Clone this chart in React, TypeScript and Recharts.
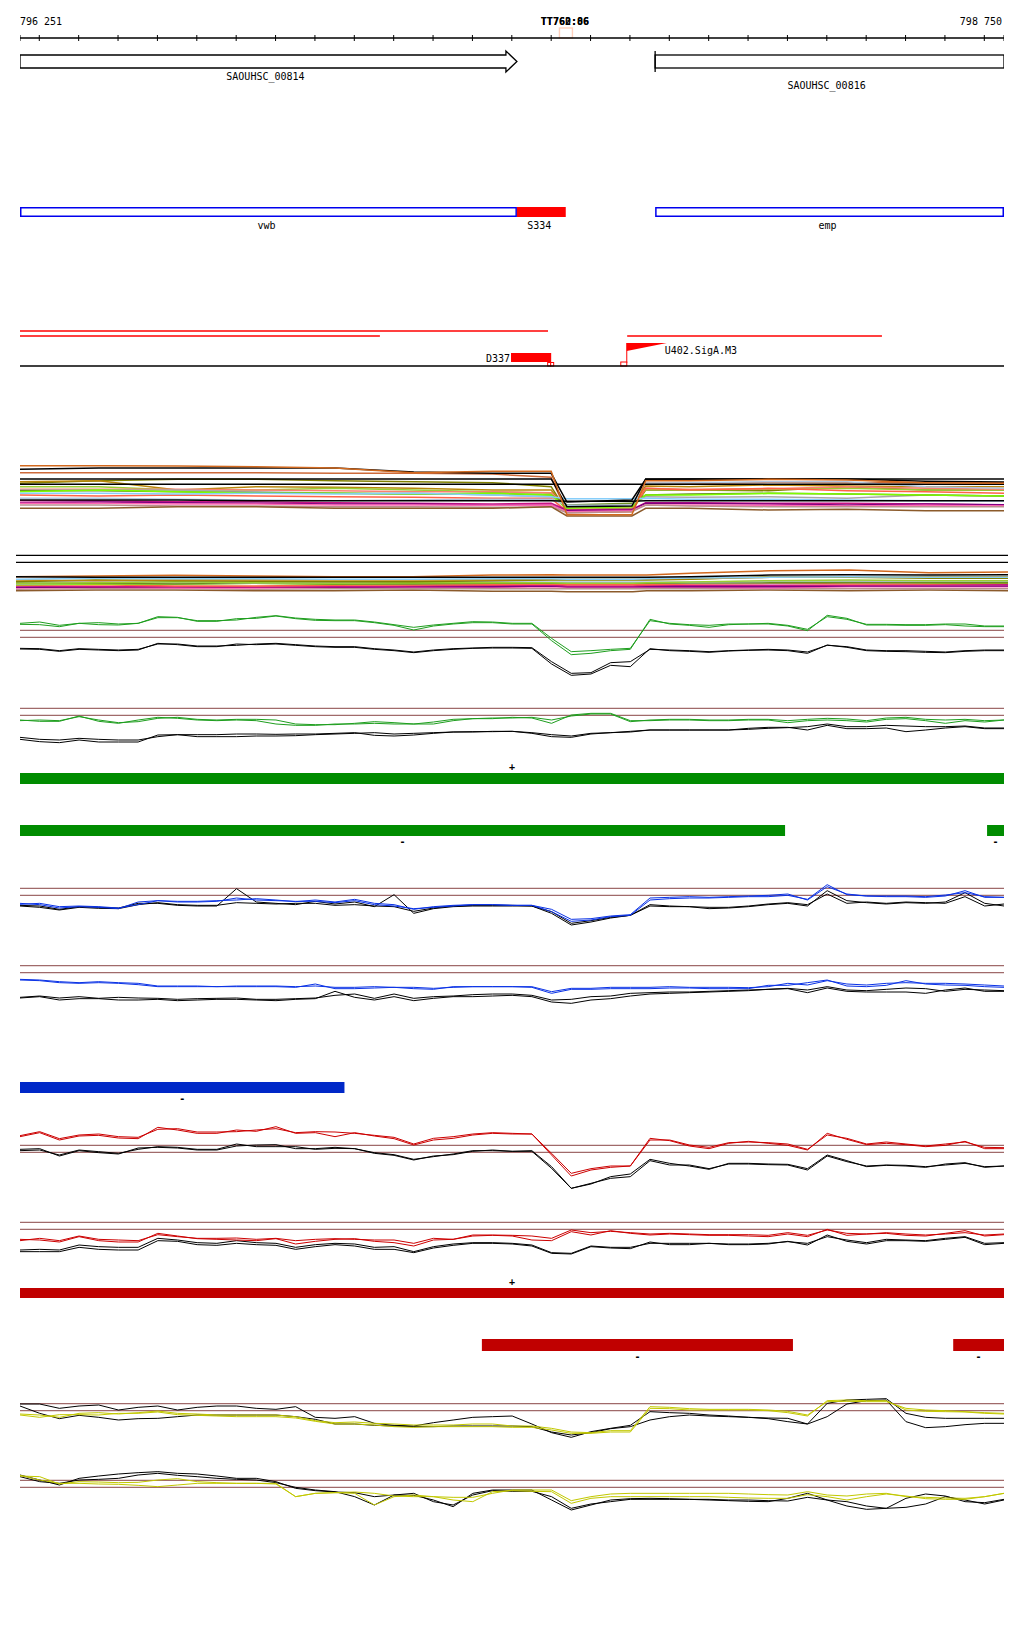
import React from 'react'
import { ComposedChart, Line, XAxis, YAxis, ReferenceLine, ReferenceArea } from 'recharts'

const X_START = 796251
const X_END = 798750
const FONT = '"DejaVu Sans Mono", "Liberation Mono", monospace'

// ---- annotation data ----
const AXIS_TICKS = [
  796251, 796300, 796400, 796500, 796600, 796700, 796800, 796900, 797000, 797100, 797200, 797300, 797400,
  797500, 797600, 797700, 797800, 797900, 798000, 798100, 798200, 798300, 798400, 798500, 798600, 798700, 798750,
]
const POSITION_LABELS = ['TT760:86', 'TT762:06']
const TSS_WINDOW = [797621, 797654]

const GENES = [
  { name: 'SAOUHSC_00814', start: 796251, end: 797513 },
  { name: 'SAOUHSC_00816', start: 797864, end: 798750 },
]
const FEATURES = [
  { name: 'vwb', start: 796251, end: 797513, kind: 'cds' },
  { name: 'S334', start: 797513, end: 797637, kind: 'srna' },
  { name: 'emp', start: 797864, end: 798750, kind: 'cds' },
]
const TRANSCRIPTS = [
  { start: 796251, end: 797592 },
  { start: 796251, end: 797165 },
  { start: 797793, end: 798440 },
]
const UTR = { name: 'D337', start: 797498, end: 797600 }
const PROMOTER = { name: 'U402.SigA.M3', pos: 797792 }

// strand-specific expressed segments
const GREEN_PLUS = [[796251, 798750]]
const GREEN_MINUS = [[796251, 798194], [798707, 798750]]
const BLUE_MINUS = [[796251, 797075]]
const RED_PLUS = [[796251, 798750]]
const RED_MINUS = [[797424, 798214], [798621, 798750]]

// ---- signal data (bp positions, 50 bp bins) ----
const POS = [
  796251, 796301, 796351, 796401, 796451, 796501, 796551, 796601, 796651, 796701,
  796751, 796801, 796851, 796901, 796951, 797001, 797051, 797101, 797151, 797201,
  797251, 797301, 797351, 797401, 797451, 797501, 797551, 797601, 797651, 797701,
  797751, 797801, 797851, 797901, 797951, 798001, 798051, 798101, 798151, 798201,
  798251, 798301, 798351, 798401, 798451, 798501, 798551, 798601, 798651, 798701,
  798750,
]

// values are signal depth (larger = lower on track)
const G1_GREEN_A = [
  70, 66, 76, 70, 68, 72, 70, 53, 53, 62,
  62, 60, 52, 47, 54, 58, 60, 60, 66, 74,
  82, 75, 70, 65, 66, 70, 70, 115, 155, 152,
  148, 145, 62, 70, 74, 76, 72, 72, 70, 76,
  88, 50, 58, 73, 73, 74, 74, 72, 72, 78,
  78,
]
const G1_GREEN_B = [
  73, 74, 80, 70, 74, 75, 70, 50, 52, 64,
  64, 56, 55, 48, 56, 61, 62, 62, 68, 76,
  90, 78, 72, 68, 68, 72, 72, 122, 164, 160,
  152, 148, 58, 72, 76, 82, 74, 72, 72, 78,
  92, 46, 55, 75, 75, 76, 76, 74, 78, 80,
  80,
]
const G1_BLACK_A = [
  145, 146, 152, 146, 148, 150, 148, 132, 132, 138,
  138, 136, 132, 130, 134, 138, 140, 140, 146, 150,
  156, 150, 146, 144, 142, 142, 143, 185, 220, 218,
  188, 185, 148, 150, 152, 155, 152, 150, 148, 150,
  156, 136, 140, 150, 152, 152, 154, 156, 152, 150,
  150,
]
const G1_BLACK_B = [
  147, 148, 154, 148, 150, 152, 150, 130, 134, 140,
  140, 132, 134, 132, 136, 140, 142, 142, 148, 152,
  158, 152, 148, 145, 144, 144, 145, 192, 226, 222,
  196, 200, 146, 152, 154, 157, 153, 151, 150, 152,
  160, 135, 142, 152, 154, 155, 157, 158, 154, 152,
  152,
]
const G2_GREEN_A = [
  362, 360, 362, 350, 360, 368, 365, 355, 352, 358,
  360, 358, 358, 360, 372, 374, 374, 370, 365, 368,
  372, 372, 362, 356, 354, 354, 352, 360, 348, 342,
  342, 365, 360, 358, 358, 360, 360, 358, 358, 362,
  358, 355, 357, 362, 354, 352, 358, 360, 358, 362,
  360,
]
const G2_GREEN_B = [
  360, 364, 364, 348, 364, 370, 360, 352, 355, 360,
  362, 360, 362, 372, 376, 376, 372, 372, 370, 372,
  372, 366, 358, 356, 356, 352, 354, 370, 345, 340,
  340, 362, 362, 360, 360, 362, 362, 360, 360, 368,
  362, 360, 362, 366, 358, 356, 362, 370, 362, 366,
  360,
]
const G2_BLACK_A = [
  412, 418, 420, 415, 418, 420, 420, 410, 404, 410,
  410, 410, 408, 408, 407, 404, 402, 400, 398, 402,
  400, 398, 396, 395, 395, 394, 398, 404, 408, 400,
  398, 396, 390, 390, 390, 390, 390, 388, 385, 383,
  380, 372, 380, 380, 376, 378, 380, 380, 378, 384,
  384,
]
const G2_BLACK_B = [
  418, 425, 428, 420, 426, 426, 426, 405, 404, 404,
  404, 402, 402, 403, 402, 402, 400, 398, 406, 408,
  405, 400, 396, 396, 394, 394, 400, 410, 412, 402,
  398, 394, 390, 390, 390, 390, 390, 385, 382, 382,
  390, 376, 386, 386, 384, 395, 390, 384, 380, 386,
  386,
]

const B1_BLUE_A = [
  103, 100, 110, 108, 110, 114, 104, 92, 94, 94,
  92, 90, 86, 90, 95, 90, 96, 88, 100, 104,
  118, 110, 106, 104, 104, 106, 106, 118, 148, 146,
  138, 134, 84, 82, 80, 82, 80, 78, 76, 72,
  90, 50, 72, 78, 78, 78, 80, 75, 68, 80,
  82,
]
const B1_BLUE_B = [
  100, 104, 114, 110, 112, 116, 96, 92, 96, 96,
  94, 84, 90, 92, 94, 94, 98, 92, 104, 108,
  116, 112, 108, 104, 104, 106, 106, 125, 154, 150,
  140, 136, 90, 86, 84, 84, 82, 80, 80, 76,
  88, 44, 74, 78, 80, 80, 82, 78, 62, 82,
  82,
]
const B1_BLACK_A = [
  108, 112, 120, 112, 115, 116, 104, 98, 104, 106,
  106, 98, 100, 102, 100, 100, 106, 104, 108, 110,
  124, 114, 108, 106, 106, 106, 108, 125, 160, 152,
  142, 136, 104, 108, 110, 112, 112, 108, 102, 98,
  104, 72, 100, 96, 100, 96, 98, 100, 80, 108,
  102,
]
const B1_BLACK_B = [
  106, 108, 118, 110, 112, 114, 100, 100, 106, 108,
  108, 56, 96, 100, 104, 94, 102, 96, 110, 74,
  130, 116, 110, 108, 108, 108, 108, 130, 165, 156,
  144, 136, 108, 110, 110, 116, 114, 110, 104, 100,
  108, 62, 92, 98, 102, 98, 100, 96, 68, 100,
  108,
]
const B2_BLUE_A = [
  328, 330, 335, 338, 335, 338, 340, 348, 348, 348,
  350, 348, 348, 348, 350, 348, 352, 352, 350, 352,
  352, 355, 352, 350, 350, 350, 350, 365, 355, 355,
  352, 352, 352, 350, 352, 352, 352, 353, 350, 340,
  345, 332, 342, 345, 340, 338, 340, 340, 342, 345,
  348,
]
const B2_BLUE_B = [
  330, 332, 338, 340, 338, 340, 344, 350, 350, 350,
  350, 350, 350, 350, 352, 342, 356, 356, 354, 352,
  356, 358, 350, 350, 350, 350, 352, 370, 358, 358,
  356, 356, 356, 354, 354, 356, 356, 356, 346, 346,
  338, 330, 348, 350, 346, 332, 342, 345, 346, 350,
  352,
]
const B2_BLACK_A = [
  382, 378, 384, 380, 385, 382, 384, 385, 388, 386,
  385, 384, 388, 388, 386, 384, 376, 372, 385, 372,
  385, 380, 378, 374, 372, 372, 376, 390, 388, 380,
  378, 370, 368, 366, 366, 364, 362, 360, 358, 355,
  360, 350, 360, 362, 358, 354, 356, 364, 358, 360,
  362,
]
const B2_BLACK_B = [
  384, 380, 390, 386, 386, 390, 390, 388, 392, 390,
  388, 388, 390, 392, 388, 386, 364, 382, 390, 380,
  392, 385, 380, 380, 378, 376, 380, 396, 400, 390,
  386, 378, 372, 370, 368, 366, 364, 362, 358, 356,
  368, 354, 364, 366, 366, 366, 370, 360, 354, 364,
  364,
]

const R1_RED_A = [
  197, 185, 206, 195, 192, 200, 202, 178, 176, 186,
  186, 185, 180, 176, 188, 185, 186, 190, 196, 202,
  222, 205, 200, 192, 188, 190, 192, 250, 310, 296,
  288, 288, 210, 210, 225, 232, 218, 216, 218, 222,
  238, 195, 205, 222, 216, 222, 228, 222, 216, 232,
  233,
]
const R1_RED_B = [
  200, 188, 210, 198, 196, 204, 206, 172, 180, 190,
  190, 180, 184, 170, 190, 188, 200, 188, 198, 206,
  225, 210, 205, 195, 190, 192, 192, 255, 318, 300,
  292, 288, 205, 212, 228, 236, 220, 214, 220, 226,
  240, 190, 208, 224, 220, 224, 230, 226, 214, 236,
  236,
]
const R1_BLACK_A = [
  242, 240, 255, 240, 245, 250, 238, 230, 232, 238,
  238, 222, 230, 230, 230, 238, 235, 236, 248, 254,
  268, 260, 252, 242, 242, 244, 242, 290, 355, 340,
  325, 320, 272, 285, 285, 296, 282, 282, 284, 285,
  300, 258, 275, 288, 285, 286, 290, 285, 280, 290,
  288,
]
const R1_BLACK_B = [
  238, 236, 258, 242, 248, 252, 234, 232, 234, 240,
  240, 228, 225, 224, 236, 236, 232, 236, 250, 256,
  270, 258, 254, 244, 240, 244, 244, 295, 355, 342,
  320, 312, 268, 280, 288, 298, 280, 280, 282, 283,
  296, 255, 272, 290, 286, 288, 292, 282, 278, 292,
  288,
]
const R2_RED_A = [
  512, 505, 512, 498, 508, 510, 512, 494, 500, 505,
  505, 504, 508, 505, 512, 508, 506, 508, 510, 510,
  520, 505, 508, 495, 495, 496, 498, 505, 480, 488,
  484, 488, 492, 490, 492, 494, 494, 494, 496, 488,
  496, 480, 490, 492, 488, 492, 495, 492, 488, 495,
  492,
]
const R2_RED_B = [
  508, 510, 516, 500, 512, 516, 516, 490, 498, 506,
  508, 510, 512, 506, 522, 514, 508, 506, 514, 518,
  528, 510, 508, 498, 496, 498, 510, 512, 485, 495,
  482, 490, 495, 492, 494, 496, 496, 498, 500, 492,
  500, 478, 496, 492, 490, 496, 498, 490, 482, 498,
  494,
]
const R2_BLACK_A = [
  540, 538, 540, 525, 530, 532, 532, 505, 510, 518,
  520, 512, 518, 520, 532, 524, 520, 522, 532, 530,
  545, 530, 522, 518, 518, 520, 525, 548, 550, 528,
  532, 532, 520, 520, 520, 520, 522, 522, 520, 515,
  520, 500, 510, 518, 508, 510, 512, 505, 500, 520,
  518,
]
const R2_BLACK_B = [
  545, 545, 545, 532, 538, 540, 540, 512, 514, 524,
  526, 520, 524, 526, 538, 530, 524, 528, 538, 538,
  548, 534, 526, 520, 520, 522, 528, 550, 552, 530,
  534, 536, 516, 524, 524, 520, 524, 524, 522, 514,
  525, 495, 514, 522, 512, 512, 514, 508, 502, 524,
  520,
]

const Y1_YEL_A = [
  342, 345, 352, 340, 338, 342, 338, 333, 340, 342,
  345, 345, 345, 345, 350, 362, 368, 366, 370, 372,
  375, 375, 375, 372, 372, 378, 378, 385, 396, 398,
  392, 392, 320, 322, 326, 328, 328, 328, 330, 334,
  345, 305, 304, 305, 305, 325, 330, 332, 335, 338,
  340,
]
const Y1_YEL_B = [
  345, 352, 344, 344, 345, 340, 340, 336, 344, 346,
  348, 350, 350, 350, 354, 364, 372, 372, 375, 380,
  382, 380, 380, 380, 380, 382, 382, 390, 400, 400,
  396, 396, 325, 326, 330, 330, 330, 330, 332, 338,
  348, 302, 300, 302, 302, 330, 334, 335, 336, 340,
  342,
]
const Y1_BLACK_A = [
  312, 312, 325, 318, 315, 330, 322, 318, 330, 322,
  318, 318, 325, 328, 320, 352, 355, 350, 370, 376,
  378, 368, 360, 352, 350, 348, 372, 398, 412, 395,
  385, 376, 335, 338, 340, 345, 348, 352, 356, 365,
  372, 310, 300, 298, 296, 340, 352, 355, 355, 355,
  355,
]
const Y1_BLACK_B = [
  318, 340, 356, 346, 352, 360, 356, 355, 350, 345,
  345, 345, 345, 345, 350, 358, 372, 372, 376, 378,
  380, 380, 378, 378, 378, 378, 380, 396, 405, 398,
  386, 380, 360, 350, 345, 348, 350, 352, 354, 355,
  372, 350, 312, 302, 300, 365, 383, 380, 374, 370,
  370,
]
const Y2_YEL_A = [
  528, 530, 552, 545, 546, 548, 547, 540, 536, 545,
  548, 550, 550, 552, 590, 580, 578, 576, 580, 588,
  590, 590, 592, 592, 580, 570, 570, 570, 602, 590,
  582, 580, 580, 580, 580, 580, 580, 582, 584, 585,
  575, 585, 588, 582, 580, 590, 592, 594, 595, 590,
  580,
]
const Y2_YEL_B = [
  526, 540, 550, 550, 552, 553, 556, 560, 555, 550,
  550, 550, 550, 550, 590, 580, 578, 580, 615, 590,
  585, 590, 600, 605, 575, 572, 574, 575, 610, 595,
  590, 590, 590, 590, 590, 590, 592, 594, 595, 595,
  584, 590, 600, 590, 582, 588, 596, 598, 598, 590,
  580,
]
const Y2_BLACK_A = [
  525, 540, 555, 535, 528, 522, 518, 515, 520, 522,
  528, 535, 535, 545, 565, 572, 576, 578, 590, 585,
  586, 600, 620, 580, 570, 570, 570, 600, 630, 615,
  600, 596, 595, 596, 598, 600, 602, 604, 605, 595,
  580, 600, 618, 628, 625, 622, 612, 590, 600, 612,
  600,
]
const Y2_BLACK_B = [
  530, 545, 550, 540, 538, 535, 525, 520, 526, 530,
  535, 538, 540, 548, 562, 570, 575, 590, 615, 585,
  580, 605, 615, 585, 572, 574, 574, 590, 625, 612,
  605, 598, 598, 598, 598, 598, 600, 600, 602, 603,
  592, 600, 605, 618, 625, 595, 582, 588, 605, 608,
  598,
]

const G_THRESHOLDS = [91, 112, 325, 346]
const B_THRESHOLDS = [55, 76, 287, 308]
const R_THRESHOLDS = [226, 247, 457, 478]
const Y_THRESHOLDS = [311, 332, 541, 562]

// ---- per-sample profiles (coarser bins) ----
const BPOS = [
  796251, 796451, 796651, 796851, 797051, 797251, 797451, 797600,
  797640, 797805, 797840, 797951, 798151, 798351, 798551, 798750,
]
const PROFILES_TOP = [
  [98, 98, 98, 98, 100, 100, 102, 112, 218, 215, 130, 130, 127, 128, 128, 128],
  [130, 122, 118, 118, 122, 125, 128, 140, 215, 210, 150, 150, 152, 140, 150, 150],
  [125, 122, 150, 140, 142, 145, 150, 150, 210, 205, 138, 140, 135, 138, 140, 140],
  [140, 140, 150, 150, 145, 150, 155, 160, 210, 205, 148, 150, 148, 145, 150, 150],
  [148, 148, 148, 150, 152, 155, 155, 158, 205, 200, 145, 148, 146, 140, 145, 148],
  [150, 150, 150, 155, 160, 160, 165, 170, 200, 195, 170, 172, 170, 175, 165, 168],
  [152, 152, 155, 158, 160, 163, 160, 165, 195, 190, 165, 162, 160, 162, 165, 168],
  [155, 150, 155, 160, 160, 162, 160, 165, 205, 200, 165, 165, 160, 162, 165, 168],
  [165, 168, 165, 168, 170, 172, 175, 175, 215, 212, 145, 150, 145, 152, 155, 160],
  [175, 175, 178, 180, 182, 180, 178, 178, 196, 195, 130, 128, 125, 125, 140, 145],
  [160, 160, 162, 160, 162, 160, 165, 170, 176, 176, 175, 178, 178, 180, 182, 182],
  [182, 182, 185, 185, 188, 190, 192, 190, 210, 208, 188, 188, 190, 190, 192, 195],
  [188, 186, 188, 190, 192, 192, 195, 195, 212, 210, 190, 190, 192, 195, 192, 194],
  [190, 190, 192, 192, 195, 195, 196, 195, 215, 212, 195, 195, 196, 198, 196, 198],
  [195, 195, 198, 198, 200, 200, 202, 200, 218, 215, 195, 198, 200, 200, 200, 200],
  [205, 205, 200, 200, 205, 205, 205, 200, 228, 228, 205, 205, 210, 208, 212, 212],
  [180, 180, 180, 182, 182, 182, 182, 182, 184, 184, 182, 182, 182, 182, 182, 182],
  [117, 117, 117, 117, 117, 117, 117, 117, 200, 198, 117, 117, 117, 117, 117, 117],
  [133, 133, 133, 133, 133, 133, 133, 133, 133, 133, 133, 133, 133, 133, 133, 133],
  [88, 84, 84, 84, 84, 96, 100, 100, 186, 180, 118, 117, 117, 117, 124, 126],
  [77, 77, 78, 80, 84, 98, 94, 94, 224, 224, 122, 122, 118, 120, 128, 130],
]
const PROFILES_BOTTOM = [
  [452, 450, 450, 452, 452, 450, 454, 454, 455, 455, 452, 452, 450, 452, 450, 452],
  [448, 446, 446, 448, 446, 446, 446, 446, 446, 446, 446, 446, 446, 446, 446, 446],
  [444, 442, 444, 444, 442, 442, 442, 440, 442, 442, 442, 442, 444, 440, 440, 440],
  [442, 442, 440, 442, 442, 440, 440, 438, 440, 440, 440, 440, 440, 438, 438, 438],
  [438, 440, 440, 442, 440, 438, 436, 436, 438, 438, 436, 436, 436, 436, 434, 434],
  [436, 434, 438, 438, 436, 435, 434, 432, 434, 434, 434, 432, 430, 432, 432, 430],
  [434, 432, 432, 430, 432, 430, 430, 430, 430, 430, 428, 428, 426, 424, 428, 428],
  [432, 430, 430, 430, 428, 426, 426, 428, 428, 428, 430, 430, 428, 426, 424, 426],
  [428, 430, 432, 430, 432, 432, 430, 430, 430, 430, 430, 428, 428, 428, 428, 428],
  [426, 426, 426, 428, 428, 426, 426, 426, 426, 426, 426, 426, 424, 422, 424, 424],
  [430, 428, 425, 428, 430, 428, 428, 428, 430, 430, 428, 426, 422, 420, 422, 422],
  [425, 420, 422, 424, 425, 425, 422, 420, 420, 420, 420, 418, 410, 412, 415, 415],
  [420, 422, 420, 420, 420, 420, 420, 418, 418, 418, 418, 416, 412, 410, 410, 410],
  [418, 415, 416, 416, 418, 418, 416, 416, 418, 418, 416, 414, 412, 410, 412, 412],
  [410, 408, 406, 408, 410, 410, 405, 404, 405, 405, 405, 400, 392, 390, 398, 396],
  [410, 412, 412, 412, 412, 412, 412, 412, 412, 412, 412, 410, 405, 404, 405, 404],
]
const SEPARATORS = [346, 367]

// ---- styles ----
const TOP_COLORS = [
  '#cd6a3a', '#808000', '#b8860b', '#9acd32', '#fa8072', '#a9a9a9', '#6b8e23', '#7cfc00', '#ff6347',
  '#b0c4de', '#87cefa', '#c71585', '#800080', '#ff69b4', '#bc8f8f', '#8b5a2b', '#000000', '#000000',
  '#000000', '#000000', '#d2691e',
]
const BOTTOM_COLORS = [
  '#8b5a2b', '#bc8f8f', '#ff69b4', '#800080', '#c71585', '#ff6347', '#7cfc00', '#a9a9a9', '#6b8e23',
  '#b0c4de', '#9acd32', '#808000', '#b8860b', '#87cefa', '#d2691e', '#000000',
]
const BROWN = '#a06a6a'
const NO_MARGIN = { top: 0, right: 0, bottom: 0, left: 0 }

function buildRows(pos: number[], series: Record<string, number[]>) {
  return pos.map((p, i) => {
    const row: Record<string, number> = { pos: p }
    Object.keys(series).forEach((k) => {
      row[k] = series[k][i]
    })
    return row
  })
}

const GREEN_ROWS = buildRows(POS, {
  k1: G1_BLACK_A, k2: G1_BLACK_B, c1: G1_GREEN_A, c2: G1_GREEN_B,
  k3: G2_BLACK_A, k4: G2_BLACK_B, c3: G2_GREEN_A, c4: G2_GREEN_B,
})
const BLUE_ROWS = buildRows(POS, {
  k1: B1_BLACK_A, k2: B1_BLACK_B, c1: B1_BLUE_A, c2: B1_BLUE_B,
  k3: B2_BLACK_A, k4: B2_BLACK_B, c3: B2_BLUE_A, c4: B2_BLUE_B,
})
const RED_ROWS = buildRows(POS, {
  k1: R1_BLACK_A, k2: R1_BLACK_B, c1: R1_RED_A, c2: R1_RED_B,
  k3: R2_BLACK_A, k4: R2_BLACK_B, c3: R2_RED_A, c4: R2_RED_B,
})
const YELLOW_ROWS = buildRows(POS, {
  k1: Y1_BLACK_A, k2: Y1_BLACK_B, c1: Y1_YEL_A, c2: Y1_YEL_B,
  k3: Y2_BLACK_A, k4: Y2_BLACK_B, c3: Y2_YEL_A, c4: Y2_YEL_B,
})
const TOP_ROWS = buildRows(BPOS, Object.fromEntries(PROFILES_TOP.map((s, i) => ['p' + i, s])))
const BOTTOM_ROWS = buildRows(BPOS, Object.fromEntries(PROFILES_BOTTOM.map((s, i) => ['p' + i, s])))
const EDGE_ROWS = [{ pos: X_START }, { pos: X_END }]

const fmtPos = (n: number) => `${Math.floor(n / 1000)} ${String(n % 1000).padStart(3, '0')}`

function Track({ left = 20, width = 984, top, height, yMax, data, children }: any) {
  return (
    <div style={{ position: 'absolute', left, top, width, height }}>
      <ComposedChart width={width} height={height} data={data} margin={NO_MARGIN}>
        <XAxis dataKey="pos" type="number" domain={[X_START, X_END]} hide allowDataOverflow />
        <YAxis type="number" domain={[0, yMax]} reversed hide allowDataOverflow />
        {children}
      </ComposedChart>
    </div>
  )
}

const trace = (key: string, color: string, width = 1) => (
  <Line
    key={key}
    dataKey={key}
    type="linear"
    stroke={color}
    strokeWidth={width}
    dot={false}
    activeDot={false}
    isAnimationActive={false}
  />
)

const threshold = (v: number, i: number) => (
  <ReferenceLine key={'t' + i} y={v} stroke={BROWN} strokeWidth={1.4} ifOverflow="visible" />
)

const txt = (x: number, y: number, s: string, anchor: 'start' | 'middle' | 'end' = 'middle', bold = false) => (
  <text x={x} y={y} textAnchor={anchor} dominantBaseline="central" fontSize={10} fontFamily={FONT} fontWeight={bold ? 'bold' : 'normal'} fill="#000">
    {s}
  </text>
)

function SignalPanel({ top, height, yMax, rows, thresholds, color }: any) {
  return (
    <Track top={top} height={height} yMax={yMax} data={rows}>
      {thresholds.map(threshold)}
      {['k1', 'k2', 'k3', 'k4'].map((k) => trace(k, '#000'))}
      {['c1', 'c2', 'c3', 'c4'].map((k) => trace(k, color))}
    </Track>
  )
}

function strandBars(segments: number[][], color: string, y1: number, y2: number, sign: string, above: boolean, tag: string) {
  return segments.map(([s, e], i) => (
    <ReferenceArea
      key={tag + i}
      x1={s}
      x2={e}
      y1={y1}
      y2={y2}
      ifOverflow="visible"
      shape={(p: any) => (
        <g>
          <rect x={p.x} y={p.y} width={p.width} height={p.height} fill={color} />
          {txt(p.x + p.width / 2, above ? p.y - 7 : p.y + p.height + 5, sign, 'middle', true)}
        </g>
      )}
    />
  ))
}

function Overlay() {
  const rows = [331, 336, 336]
  return (
    <div style={{ position: 'absolute', left: 20, top: 0 }}>
      <ComposedChart width={984} height={1640} data={EDGE_ROWS} margin={NO_MARGIN}>
        <XAxis dataKey="pos" type="number" domain={[X_START, X_END]} hide allowDataOverflow />
        <YAxis type="number" domain={[0, 1640]} reversed hide allowDataOverflow />

        {/* coordinate ruler */}
        <ReferenceArea
          x1={X_START}
          x2={X_END}
          y1={16}
          y2={26}
          ifOverflow="visible"
          shape={(p: any) => (
            <g>
              {txt(p.x, 21, fmtPos(X_START), 'start')}
              {txt(p.x + p.width - 2, 21, fmtPos(X_END), 'end')}
            </g>
          )}
        />
        <ReferenceLine y={38} stroke="#000" strokeWidth={1.4} ifOverflow="visible" />
        {AXIS_TICKS.map((t) => (
          <ReferenceLine key={'tick' + t} segment={[{ x: t, y: 35 }, { x: t, y: 41 }]} stroke="#000" strokeWidth={1} ifOverflow="visible" />
        ))}
        <ReferenceArea
          x1={TSS_WINDOW[0]}
          x2={TSS_WINDOW[1]}
          y1={28}
          y2={38}
          ifOverflow="visible"
          shape={(p: any) => (
            <g>
              <rect x={p.x} y={p.y} width={p.width} height={p.height} fill="none" stroke="#ffd0bc" strokeWidth={1.4} />
              {POSITION_LABELS.map((l) => (
                <g key={l}>{txt(p.x + p.width / 2 - 1, 21, l, 'middle', true)}</g>
              ))}
            </g>
          )}
        />

        {/* gene models */}
        <ReferenceArea
          x1={GENES[0].start}
          x2={GENES[0].end}
          y1={55}
          y2={68}
          ifOverflow="visible"
          shape={(p: any) => {
            const b = p.x + p.width - 11
            const pts = `${p.x},${p.y} ${b},${p.y} ${b},${p.y - 4} ${p.x + p.width},${p.y + p.height / 2} ${b},${p.y + p.height + 4} ${b},${p.y + p.height} ${p.x},${p.y + p.height}`
            return (
              <g>
                <polygon points={pts} fill="#fff" stroke="#000" strokeWidth={1.3} />
                {txt(p.x + p.width / 2 - 3, 76, GENES[0].name)}
              </g>
            )
          }}
        />
        <ReferenceArea
          x1={GENES[1].start}
          x2={GENES[1].end}
          y1={55}
          y2={68}
          ifOverflow="visible"
          shape={(p: any) => (
            <g>
              <rect x={p.x} y={p.y} width={p.width} height={p.height} fill="#fff" stroke="#000" strokeWidth={1.3} />
              <line x1={p.x} x2={p.x} y1={p.y - 4} y2={p.y + p.height + 4} stroke="#000" strokeWidth={1.3} />
              {txt(p.x + p.width / 2 - 3, 85, GENES[1].name)}
            </g>
          )}
        />

        {/* annotated features */}
        {FEATURES.map((f) => (
          <ReferenceArea
            key={f.name}
            x1={f.start}
            x2={f.end}
            y1={207}
            y2={217}
            ifOverflow="visible"
            shape={(p: any) => (
              <g>
                {f.kind === 'cds' ? (
                  <rect x={p.x + 0.75} y={p.y + 0.75} width={p.width - 1.5} height={p.height - 1.5} fill="#fff" stroke="#0000ee" strokeWidth={1.5} />
                ) : (
                  <rect x={p.x} y={p.y} width={p.width} height={p.height} fill="#ff0000" />
                )}
                {txt(p.x + p.width / 2 - 2, 225, f.name)}
              </g>
            )}
          />
        ))}

        {/* transcripts */}
        {TRANSCRIPTS.map((t, i) => (
          <ReferenceLine key={'tr' + i} segment={[{ x: t.start, y: rows[i] }, { x: t.end, y: rows[i] }]} stroke="#ff0000" strokeWidth={1.5} ifOverflow="visible" />
        ))}
        <ReferenceArea
          x1={UTR.start}
          x2={UTR.end}
          y1={353}
          y2={362}
          ifOverflow="visible"
          shape={(p: any) => (
            <g>
              <rect x={p.x} y={p.y} width={p.width} height={p.height} fill="#ff0000" />
              <rect x={p.x + p.width - 3.5} y={362.5} width={3} height={3.5} fill="#fff" stroke="#ff0000" strokeWidth={1} />
              <rect x={p.x + p.width - 0.5} y={362.5} width={3} height={3.5} fill="#fff" stroke="#ff0000" strokeWidth={1} />
              {txt(p.x - 1, 358, UTR.name, 'end')}
            </g>
          )}
        />
        <ReferenceLine
          segment={[{ x: PROMOTER.pos, y: 343 }, { x: PROMOTER.pos, y: 363 }]}
          ifOverflow="visible"
          shape={(p: any) => (
            <g>
              <line x1={p.x1} x2={p.x1} y1={343} y2={363} stroke="#ff0000" strokeWidth={1} />
              <polygon points={`${p.x1},343 ${p.x1 + 40},343 ${p.x1},351`} fill="#ff0000" />
              <rect x={p.x1 - 6} y={362} width={6} height={4} fill="#fff" stroke="#ff0000" strokeWidth={1} />
              {txt(p.x1 + 38, 350, PROMOTER.name, 'start')}
            </g>
          )}
        />
        <ReferenceLine y={366} stroke="#000" strokeWidth={1.4} ifOverflow="visible" />

        {/* strand coverage bars */}
        {strandBars(GREEN_PLUS, '#008c00', 773, 784, '+', true, 'gp')}
        {strandBars(GREEN_MINUS, '#008c00', 825, 836, '-', false, 'gm')}
        {strandBars(BLUE_MINUS, '#0028c8', 1082, 1093, '-', false, 'bm')}
        {strandBars(RED_PLUS, '#c00000', 1288, 1298, '+', true, 'rp')}
        {strandBars(RED_MINUS, '#c00000', 1339, 1351, '-', false, 'rm')}
      </ComposedChart>
    </div>
  )
}

export default function App() {
  return (
    <div style={{ position: 'absolute', left: 0, top: 0, width: 1024, height: 1640, background: '#fff', overflow: 'hidden' }}>
      <Overlay />
      <Track top={440} height={160} yMax={480} data={TOP_ROWS}>
        {PROFILES_TOP.map((_, i) => trace('p' + i, TOP_COLORS[i], 1.5))}
      </Track>
      <Track left={16} width={992} top={440} height={160} yMax={480} data={BOTTOM_ROWS}>
        {SEPARATORS.map((v, i) => (
          <ReferenceLine key={'s' + i} y={v} stroke="#000" strokeWidth={1.4} ifOverflow="visible" />
        ))}
        {PROFILES_BOTTOM.map((_, i) => trace('p' + i, BOTTOM_COLORS[i], 1.5))}
      </Track>
      <SignalPanel top={600} height={160} yMax={480} rows={GREEN_ROWS} thresholds={G_THRESHOLDS} color="#1e9e1e" />
      <SignalPanel top={870} height={140} yMax={420} rows={BLUE_ROWS} thresholds={B_THRESHOLDS} color="#0a32e6" />
      <SignalPanel top={1070} height={200} yMax={600} rows={RED_ROWS} thresholds={R_THRESHOLDS} color="#cc0000" />
      <SignalPanel top={1300} height={220} yMax={660} rows={YELLOW_ROWS} thresholds={Y_THRESHOLDS} color="#c2c800" />
    </div>
  )
}
